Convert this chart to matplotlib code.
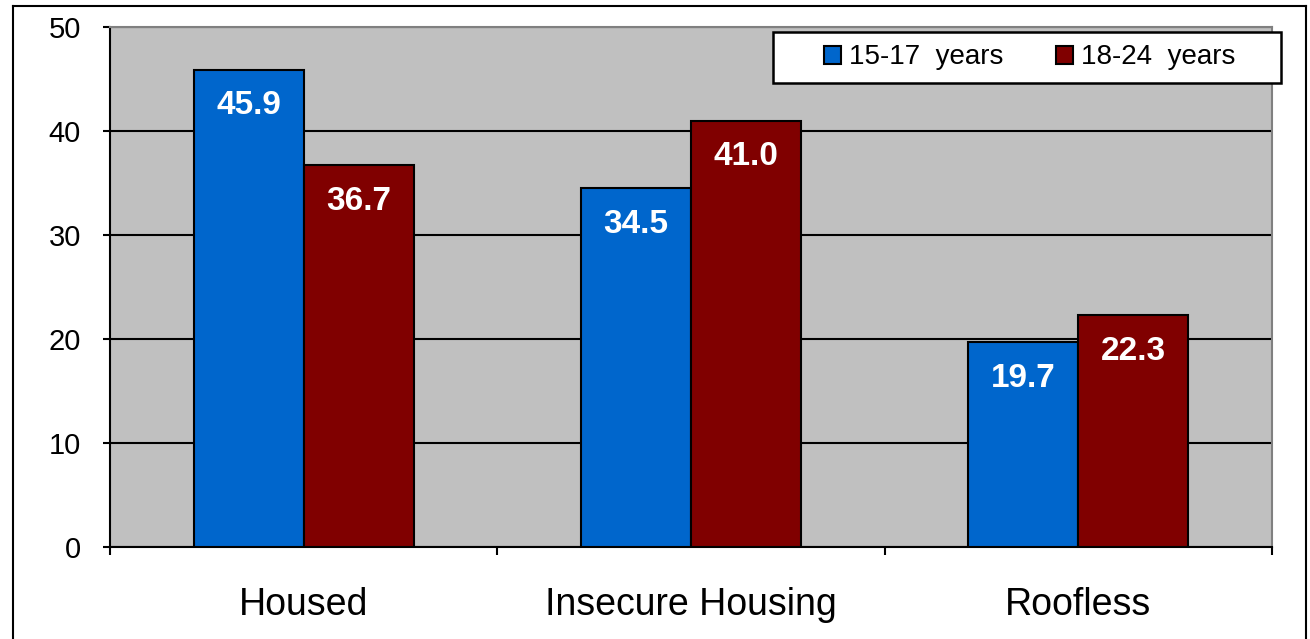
import matplotlib
matplotlib.use("Agg")
import matplotlib.pyplot as plt
import numpy as np
from matplotlib.lines import Line2D
from matplotlib.patches import Rectangle

plt.rcParams['font.family'] = ['Liberation Sans', 'DejaVu Sans']

categories = ["Housed", "Insecure Housing", "Roofless"]
series_names = ["15-17  years", "18-24  years"]
values_1517 = [45.9, 34.5, 19.7]
values_1824 = [36.7, 41.0, 22.3]
yticks = [0, 10, 20, 30, 40, 50]

colors = ["#0066CC", "#800000"]

W, H = 1310, 639
fig = plt.figure(figsize=(W/100, H/100), dpi=100)
ax = fig.add_axes([110/W, 1-547/H, (1272-110)/W, (547-27)/H])
ax.set_facecolor("#C0C0C0")

x = np.arange(len(categories))
w = 0.284
for i, (vals, name) in enumerate([(values_1517, series_names[0]), (values_1824, series_names[1])]):
    pos = x + (i - 0.5) * w
    bars = ax.bar(pos, vals, width=w, color=colors[i], edgecolor="black", linewidth=1.5,
                  label=name, zorder=3)
    for b, v in zip(bars, vals):
        ax.annotate(f"{v:.1f}", (b.get_x() + b.get_width()/2, v),
                    xytext=(0, -36), textcoords="offset pixels",
                    ha="center", va="center", color="white", fontsize=24,
                    fontweight="bold", zorder=4)

ax.set_ylim(0, 50)
ax.set_xlim(-0.5, 2.5)
ax.set_yticks(yticks)
ax.set_yticklabels([str(t) for t in yticks])
ax.yaxis.grid(True, color="black", linewidth=1.5, zorder=1)
ax.set_axisbelow(True)

ax.set_xticks([-0.5, 0.5, 1.5, 2.5])
ax.set_xticklabels([])
ax.set_xticks(x, minor=True)
ax.set_xticklabels(categories, minor=True, fontsize=27)
ax.tick_params(axis="x", which="minor", length=0, pad=29)
ax.tick_params(axis="x", which="major", length=6, width=1.5, direction="out")
ax.tick_params(axis="y", length=5, width=1.5, direction="out", labelsize=21, pad=16)

for s in ["left", "bottom"]:
    ax.spines[s].set_color("black")
    ax.spines[s].set_linewidth(1.5)
for s in ["top", "right"]:
    ax.spines[s].set_color("#808080")
    ax.spines[s].set_linewidth(1.5)

# legend frame
fig.add_artist(Rectangle((773/W, 1-83/H), (1281-773)/W, (83-32)/H, transform=fig.transFigure,
                         facecolor="white", edgecolor="black", linewidth=1.8, zorder=5))
leg = ax.legend(loc="center", bbox_to_anchor=(1030/W, 1-57.5/H),
                bbox_transform=fig.transFigure, ncol=2, fontsize=20,
                frameon=False,
                handlelength=0.6, handleheight=0.6, handletextpad=0.3,
                columnspacing=1.9, borderpad=0, borderaxespad=0)
leg.set_zorder(6)
fig.add_artist(leg)

# figure border
fx0, fx1 = 13/W, 1306/W
fy1 = 1 - 6/H
for xs, ys in [([fx0, fx0], [-0.1, fy1]), ([fx0, fx1], [fy1, fy1]), ([fx1, fx1], [fy1, -0.1])]:
    fig.add_artist(Line2D(xs, ys, transform=fig.transFigure, color="black", linewidth=1.5))

fig.savefig("out.png", dpi=100)
